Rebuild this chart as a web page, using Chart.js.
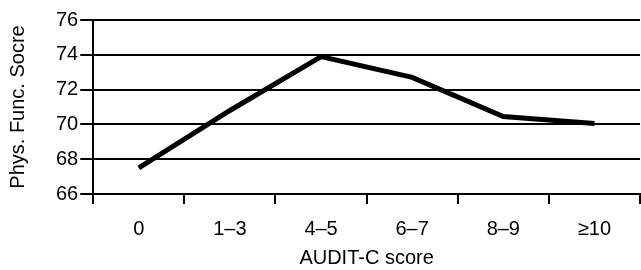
<!DOCTYPE html>
<html>
<head>
<meta charset="utf-8">
<script src="https://cdn.jsdelivr.net/npm/chart.js@4"></script>
<style>
  html, body { margin: 0; padding: 0; background: #fff; }
  #wrap { width: 641px; height: 270px; }
</style>
</head>
<body>
<div id="wrap"><canvas id="chart"></canvas></div>
<script>
// AUDIT-C categories and physical functioning score
const categories = ['0', '1\u20133', '4\u20135', '6\u20137', '8\u20139', '\u226510'];
const physFunc = [67.5, 70.8, 73.9, 72.7, 70.45, 70.05];
const yTicks = [66, 68, 70, 72, 74, 76];

const font = { family: 'Liberation Sans, Arial, sans-serif', size: 20 };

new Chart(document.getElementById('chart'), {
    type: 'line',
    data: {
        labels: categories,
        datasets: [{
            data: physFunc,
            borderColor: '#000',
            borderWidth: 5,
            pointRadius: 0,
            tension: 0,
            fill: false
        }]
    },
    options: {
        responsive: true,
        maintainAspectRatio: false,
        animation: false,
        layout: { padding: { top: 20, right: 1, left: 6, bottom: 0 } },
        plugins: {
            legend: { display: false },
            tooltip: { enabled: false }
        },
        scales: {
            x: {
                offset: true,
                border: { color: '#000', width: 2 },
                grid: {
                    offset: true,
                    drawOnChartArea: false,
                    drawTicks: true,
                    tickLength: 10,
                    color: '#000',
                    lineWidth: 2
                },
                ticks: { color: '#000', font: font, padding: 13, maxRotation: 0 },
                title: { display: true, text: 'AUDIT-C score', color: '#000', font: font, padding: { top: -8, bottom: 0 } }
            },
            y: {
                min: 66,
                max: 76,
                border: { color: '#000', width: 2 },
                afterBuildTicks: function(axis) {
                    axis.ticks = yTicks.map(v => ({ value: v }));
                },
                grid: {
                    color: '#000',
                    lineWidth: 2,
                    drawTicks: true,
                    tickLength: 13
                },
                ticks: { color: '#000', font: font, padding: 2 },
                title: { display: true, text: 'Phys. Func. Socre', color: '#000', font: font, padding: { top: 0, bottom: 24 } }
            }
        }
    }
});
</script>
</body>
</html>
